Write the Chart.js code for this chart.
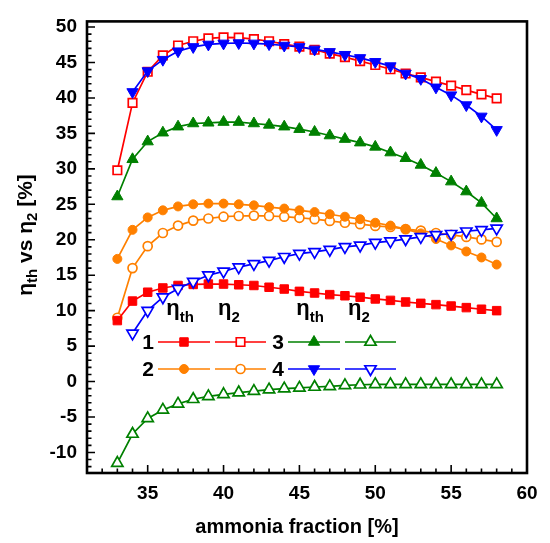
<!DOCTYPE html>
<html>
<head>
<meta charset="utf-8">
<script src="https://cdn.jsdelivr.net/npm/chart.js@4/dist/chart.umd.min.js"></script>
<style>
  html, body { margin: 0; padding: 0; background: #fff; }
</style>
</head>
<body>
<canvas id="chart" width="550" height="543"></canvas>
<script>
// --- Data: ammonia fraction [%] and efficiencies [%] ---
const FRACTION = [33, 34, 35, 36, 37, 38, 39, 40, 41, 42, 43, 44, 45, 46, 47, 48, 49, 50, 51, 52, 53, 54, 55, 56, 57, 58];

const ETA_TH_1 = [8.6, 11.35, 12.6, 13.2, 13.55, 13.7, 13.75, 13.75, 13.65, 13.55, 13.3, 13.05, 12.72, 12.49, 12.26, 12.1, 11.9, 11.65, 11.45, 11.22, 11.03, 10.85, 10.65, 10.43, 10.2, 10.0];
const ETA_2_1 = [29.8, 39.3, 43.7, 46.0, 47.4, 48.0, 48.4, 48.55, 48.5, 48.3, 48.0, 47.6, 47.25, 46.8, 46.25, 45.75, 45.2, 44.65, 44.05, 43.45, 42.9, 42.3, 41.75, 41.1, 40.5, 39.95];
const ETA_TH_2 = [17.3, 21.4, 23.15, 24.15, 24.7, 25.0, 25.1, 25.1, 25.0, 24.85, 24.6, 24.4, 24.15, 23.9, 23.6, 23.25, 22.9, 22.4, 22.0, 21.5, 20.9, 20.1, 19.2, 18.35, 17.5, 16.5];
const ETA_2_2 = [9.0, 16.0, 19.1, 20.95, 22.0, 22.7, 23.0, 23.25, 23.35, 23.4, 23.35, 23.25, 23.1, 22.9, 22.65, 22.4, 22.2, 21.95, 21.8, 21.5, 21.3, 20.95, 20.7, 20.4, 20.05, 19.7];
const ETA_TH_3 = [26.1, 31.35, 33.85, 35.1, 35.95, 36.4, 36.5, 36.6, 36.6, 36.4, 36.2, 35.95, 35.6, 35.2, 34.7, 34.2, 33.7, 33.1, 32.3, 31.5, 30.55, 29.4, 28.2, 26.8, 25.2, 23.0];
const ETA_2_3 = [-11.5, -7.4, -5.2, -4.0, -3.15, -2.5, -2.1, -1.8, -1.55, -1.35, -1.15, -1.0, -0.9, -0.77, -0.68, -0.55, -0.45, -0.4, -0.4, -0.4, -0.4, -0.4, -0.4, -0.4, -0.4, -0.4];
const ETA_TH_4 = [null, 40.85, 43.8, 45.4, 46.6, 47.2, 47.55, 47.7, 47.75, 47.7, 47.6, 47.4, 47.2, 46.85, 46.5, 46.1, 45.65, 45.1, 44.5, 43.45, 42.7, 41.5, 40.4, 39.0, 37.4, 35.5];
const ETA_2_4 = [null, 6.8, 10.0, 11.9, 13.1, 14.1, 15.0, 15.55, 16.15, 16.6, 17.05, 17.6, 18.05, 18.3, 18.6, 19.0, 19.2, 19.6, 19.8, 20.1, 20.4, 20.7, 20.85, 21.2, 21.4, 21.6];

const X_TICKS = [35, 40, 45, 50, 55, 60];
const Y_TICKS = [-10, -5, 0, 5, 10, 15, 20, 25, 30, 35, 40, 45, 50];

// --- Styles ---
const RED = '#ff0000';
const ORANGE = '#ff8000';
const GREEN = '#008000';
const BLUE = '#0000ff';
const FONT = '"Liberation Sans", Arial, sans-serif';

const MARKERS = {
  rect: { style: 'rect', radius: 6, rotation: 0 },
  circle: { style: 'circle', radius: 4.5, rotation: 0 },
  up: { style: 'triangle', radius: 6.5, rotation: 0 },
  down: { style: 'triangle', radius: 6.5, rotation: 180 },
};

function series(values, color, marker, filled) {
  const m = MARKERS[marker];
  return {
    data: values.map((v, i) => ({ x: FRACTION[i], y: v })),
    borderColor: color,
    backgroundColor: color,
    borderWidth: 1.7,
    pointStyle: m.style,
    pointRotation: m.rotation,
    pointRadius: m.radius,
    pointHoverRadius: m.radius,
    pointBackgroundColor: filled ? color : '#ffffff',
    pointBorderColor: color,
    pointBorderWidth: filled ? 1 : 1.7,
    tension: 0,
    fill: false,
  };
}

// --- Marker for the in-plot legend ---
function drawMarker(ctx, x, y, color, marker, filled) {
  const m = MARKERS[marker];
  ctx.save();
  ctx.fillStyle = filled ? color : '#ffffff';
  ctx.strokeStyle = color;
  ctx.lineWidth = filled ? 1 : 1.7;
  ctx.beginPath();
  if (m.style === 'rect') {
    const s = m.radius * Math.SQRT1_2;
    ctx.rect(x - s, y - s, 2 * s, 2 * s);
  } else if (m.style === 'circle') {
    ctx.arc(x, y, m.radius, 0, Math.PI * 2);
  } else {
    let rad = m.rotation * Math.PI / 180;
    for (let k = 0; k < 3; k++) {
      const px = x + Math.sin(rad) * m.radius;
      const py = y - Math.cos(rad) * m.radius;
      if (k === 0) ctx.moveTo(px, py); else ctx.lineTo(px, py);
      rad += 2 * Math.PI / 3;
    }
    ctx.closePath();
  }
  ctx.fill();
  ctx.stroke();
  ctx.restore();
}

// text with subscripts: parts = [[text, size, dy], ...]
function drawRich(ctx, parts, cx, y) {
  let total = 0;
  for (const [t, size] of parts) {
    ctx.font = `bold ${size}px ${FONT}`;
    total += ctx.measureText(t).width;
  }
  let x = cx - total / 2;
  ctx.textAlign = 'left';
  ctx.textBaseline = 'alphabetic';
  for (const [t, size, dy] of parts) {
    ctx.font = `bold ${size}px ${FONT}`;
    ctx.fillText(t, x, y + dy);
    x += ctx.measureText(t).width;
  }
}

const LEGEND_ROWS = [
  { y: 342, items: [
    { label: '1', x: 148, color: RED, marker: 'rect' },
    { label: '3', x: 278, color: GREEN, marker: 'up' },
  ] },
  { y: 369, items: [
    { label: '2', x: 148, color: ORANGE, marker: 'circle' },
    { label: '4', x: 278, color: BLUE, marker: 'down' },
  ] },
];

const decorations = {
  id: 'decorations',
  afterDraw(chart) {
    const { ctx, chartArea: a, scales: { x, y } } = chart;
    ctx.save();
    ctx.fillStyle = '#000';
    ctx.strokeStyle = '#000';

    // inward ticks along the bottom and left axes
    ctx.lineWidth = 1.6;
    ctx.beginPath();
    for (let v = 32; v <= 59; v++) {
      const px = x.getPixelForValue(v);
      const len = v % 5 === 0 ? 8 : 4.5;
      ctx.moveTo(px, a.bottom);
      ctx.lineTo(px, a.bottom - len);
    }
    for (let v = -12; v <= 50; v++) {
      const py = y.getPixelForValue(v);
      const len = v % 5 === 0 ? 8 : 4.5;
      ctx.moveTo(a.left, py);
      ctx.lineTo(a.left + len, py);
    }
    ctx.stroke();

    // frame
    ctx.lineWidth = 2.6;
    ctx.strokeRect(a.left, a.top, a.right - a.left, a.bottom - a.top);

    // axis titles
    ctx.font = `bold 20px ${FONT}`;
    ctx.textAlign = 'center';
    ctx.textBaseline = 'middle';
    ctx.fillText('ammonia fraction [%]', 297, 527);

    ctx.save();
    ctx.translate(32, 235);
    ctx.rotate(-Math.PI / 2);
    drawRich(ctx, [['η', 21, 0], ['th', 15, 5], [' vs η', 21, 0], ['2', 15, 5], [' [%]', 21, 0]], 0, 0);
    ctx.restore();

    // legend headers
    const heads = [[180, 'th'], [229, '2'], [310, 'th'], [359, '2']];
    for (const [cx, sub] of heads) {
      drawRich(ctx, [['η', 22, 0], [sub, 15, 7]], cx, 315);
    }

    // legend rows
    for (const row of LEGEND_ROWS) {
      for (const it of row.items) {
        ctx.font = `bold 21px ${FONT}`;
        ctx.textAlign = 'center';
        ctx.textBaseline = 'middle';
        ctx.fillStyle = '#000';
        ctx.fillText(it.label, it.x, row.y + 1);
        ctx.strokeStyle = it.color;
        ctx.lineWidth = 1.7;
        const segs = [[it.x + 10, it.x + 62, true], [it.x + 67, it.x + 118, false]];
        for (const [x0, x1, filled] of segs) {
          ctx.beginPath();
          ctx.moveTo(x0, row.y);
          ctx.lineTo(x1, row.y);
          ctx.stroke();
          drawMarker(ctx, (x0 + x1) / 2, row.y, it.color, it.marker, filled);
        }
      }
    }
    ctx.restore();
  },
};

const tickFont = { family: FONT, size: 19, weight: 'bold' };

new Chart(document.getElementById('chart'), {
  type: 'line',
  data: {
    datasets: [
      series(ETA_2_3, GREEN, 'up', false),
      series(ETA_TH_3, GREEN, 'up', true),
      series(ETA_2_4, BLUE, 'down', false),
      series(ETA_TH_1, RED, 'rect', true),
      series(ETA_TH_2, ORANGE, 'circle', true),
      series(ETA_2_2, ORANGE, 'circle', false),
      series(ETA_TH_4, BLUE, 'down', true),
      series(ETA_2_1, RED, 'rect', false),
    ],
  },
  options: {
    responsive: false,
    animation: false,
    layout: { padding: { top: 9, right: 23, left: 0, bottom: 0 } },
    plugins: { legend: { display: false }, tooltip: { enabled: false } },
    scales: {
      x: {
        type: 'linear',
        min: 31,
        max: 60,
        afterFit: (s) => { s.height = 70; },
        afterBuildTicks: (s) => { s.ticks = X_TICKS.map((v) => ({ value: v })); },
        grid: { display: false, drawTicks: false },
        border: { display: false },
        ticks: { font: tickFont, color: '#000', padding: 9, maxRotation: 0 },
      },
      y: {
        type: 'linear',
        min: -12.9,
        max: 50.8,
        afterFit: (s) => { s.width = 87; },
        afterBuildTicks: (s) => { s.ticks = Y_TICKS.map((v) => ({ value: v })); },
        grid: { display: false, drawTicks: false },
        border: { display: false },
        ticks: { font: tickFont, color: '#000', padding: 10 },
      },
    },
  },
  plugins: [decorations],
});
</script>
</body>
</html>
